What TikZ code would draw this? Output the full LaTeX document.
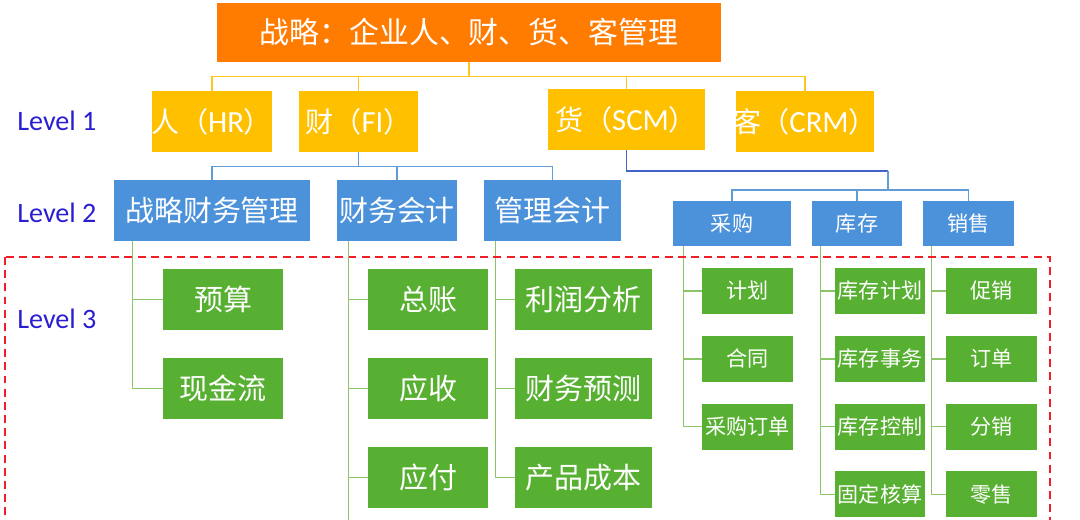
\documentclass[tikz,border=0pt]{standalone}
\usepackage{fontspec}
\setmainfont{Carlito}
\newfontfamily\cjk{Noto Sans CJK SC}
\newfontfamily\lat{Carlito}
\newcommand\abbr[1]{{\lat\fontsize{17.5}{18}\selectfont #1}}
\definecolor{topor}{RGB}{255,124,0}
\definecolor{lvone}{RGB}{255,192,0}
\definecolor{lvtwo}{RGB}{76,146,218}
\definecolor{lvthree}{RGB}{88,176,50}
\definecolor{ylin}{RGB}{255,196,30}
\definecolor{blin}{RGB}{96,156,214}
\definecolor{dlin}{RGB}{66,98,200}
\definecolor{glin}{RGB}{140,196,104}
\definecolor{rdash}{RGB}{240,30,40}
\definecolor{lvtext}{RGB}{42,30,210}
\begin{document}
\begin{tikzpicture}[x=0.02cm,y=-0.02cm,
	sz/.style 2 args={minimum width=#1*0.02cm,minimum height=#2*0.02cm},
	box/.style={inner sep=0pt,text=white},
	big/.style={font=\cjk\fontsize{16.5}{18}\selectfont},
	small/.style={font=\cjk\fontsize{12}{14}\selectfont},
	obox/.style={box,fill=topor,font=\cjk\fontsize{17}{19}\selectfont},
	ybox/.style={box,fill=lvone,font=\cjk\fontsize{16}{18}\selectfont},
	bbox/.style={box,fill=lvtwo},
	gbox/.style={box,fill=lvthree},
	lvl/.style={anchor=west,inner sep=0pt,text=lvtext,font=\lat\fontsize{16}{18}\selectfont},
	yline/.style={draw=ylin,line width=0.8pt},
	bline/.style={draw=blin,line width=0.8pt},
	dline/.style={draw=dlin,line width=0.9pt},
	gline/.style={draw=glin,line width=0.9pt},
	redbox/.style={draw=rdash,line width=1.2pt,dash pattern=on 4.5pt off 3pt}]
	
	\clip (0,0) rectangle (1080,520);
	
	\node[obox,sz={504}{59}] (top) at (469,32.5) {战略：企业人、财、货、客管理};
	
	\node[ybox,sz={120}{61}] (hr) at (212,121.5) {\makebox[0pt]{人（\abbr{HR}）}};
	\node[ybox,sz={119}{61}] (fi) at (358.5,121.5) {\makebox[0pt]{财（\abbr{FI}）}};
	\node[ybox,sz={157}{61}] (scm) at (626.5,119.5) {\makebox[0pt]{货（\abbr{SCM}）}};
	\node[ybox,sz={138}{61}] (crm) at (805,121.5) {\makebox[0pt]{客（\abbr{CRM}）}};
	
	\node[lvl] (lv1) at (17,121) {Level 1};
	\node[lvl] (lv2) at (17,213) {Level 2};
	\node[lvl] (lv3) at (17,319) {Level 3};
	
	\node[bbox,big,sz={196}{61}] (sfm) at (212,210.5) {战略财务管理};
	\node[bbox,big,sz={120}{61}] (fa) at (397,210.5) {财务会计};
	\node[bbox,big,sz={137}{61}] (ma) at (552.5,210.5) {管理会计};
	\node[bbox,small,sz={118}{45}] (cg) at (732,223.5) {采购};
	\node[bbox,small,sz={90}{45}] (kc) at (857,223.5) {库存};
	\node[bbox,small,sz={91}{45}] (xs) at (968.5,223.5) {销售};
	
	\foreach \t [count=\i] in {预算,现金流}
		\node[gbox,big,sz={120}{61}] (sfm\i) at (223,{299.5+89*(\i-1)}) {\t};
	\foreach \t [count=\i] in {总账,应收,应付}
		\node[gbox,big,sz={120}{61}] (fa\i) at (428,{299.5+89*(\i-1)}) {\t};
	\foreach \t [count=\i] in {利润分析,财务预测,产品成本}
		\node[gbox,big,sz={137}{61}] (ma\i) at (583.5,{299.5+89*(\i-1)}) {\t};
	\foreach \t [count=\i] in {计划,合同,采购订单}
		\node[gbox,small,sz={91}{46}] (cg\i) at (747.5,{291+67.8*(\i-1)}) {\t};
	\foreach \t [count=\i] in {库存计划,库存事务,库存控制,固定核算}
		\node[gbox,small,sz={90}{46}] (kc\i) at (880,{291+67.8*(\i-1)}) {\t};
	\foreach \t [count=\i] in {促销,订单,分销,零售}
		\node[gbox,small,sz={91}{46}] (xs\i) at (991.5,{291+67.8*(\i-1)}) {\t};
	
	\foreach \n in {hr,fi,scm,crm}
		\draw[yline] (top.south) -- ++(0,14) -| (\n.north);
	\foreach \n in {sfm,fa,ma}
		\draw[bline] (fi.south) -- ++(0,14) -| (\n.north);
	\coordinate (hub) at (888,171);
	\draw[dline] (scm.south) |- (hub);
	\foreach \n in {cg,kc,xs}
		\draw[bline] (hub) -- ++(0,19) -| (\n.north);
	
	\foreach \i in {1,2}
		\draw[gline] (sfm.south west) ++(19,0) |- (sfm\i.west);
	\foreach \i in {1,2,3} {
		\draw[gline] (fa.south west) ++(12,0) |- (fa\i.west);
		\draw[gline] (ma.south west) ++(12,0) |- (ma\i.west);
		\draw[gline] (cg.south west) ++(11,0) |- (cg\i.west);
	}
	\draw[gline] (fa.south west) ++(12,0) -- ++(0,290);
	\foreach \i in {1,...,4} {
		\draw[gline] (kc.south west) ++(9,0) |- (kc\i.west);
		\draw[gline] (xs.south west) ++(9,0) |- (xs\i.west);
	}
	
	\draw[redbox] (5,257) rectangle (1050,600);
\end{tikzpicture}
\end{document}
